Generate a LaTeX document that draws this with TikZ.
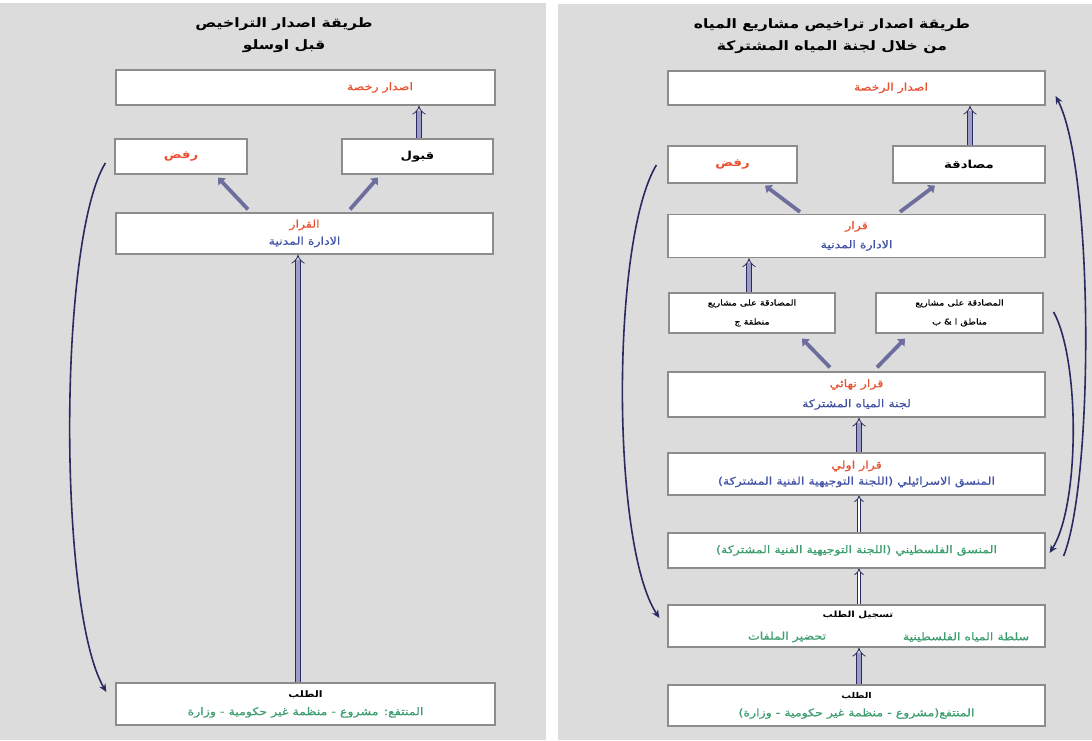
\documentclass[tikz,border=0pt]{standalone}
\usepackage{fontspec}
\usetikzlibrary{arrows.meta,calc}
\TeXXeTstate=1
\newfontfamily\arfont[Script=Arabic,FakeStretch=1.2,FakeBold=0.6,BoldFeatures={FakeBold=0}]{DejaVu Sans}
\newcommand\AR[1]{{\arfont\beginR #1\endR}}
\definecolor{panel}{HTML}{DCDCDC}
\definecolor{boxgray}{HTML}{8C8C8C}
\definecolor{tred}{HTML}{E8502F}
\definecolor{tblue}{HTML}{3F50A5}
\definecolor{tgreen}{HTML}{3C9E6E}
\definecolor{navy}{HTML}{2A2A62}
\definecolor{fatfill}{HTML}{9C9CC4}
\definecolor{diagc}{HTML}{6E6E9E}
\tikzset{
  box/.style={draw=boxgray, line width=1.2pt, fill=white, inner sep=0pt, align=center, font=\fontsize{10.5}{18}\selectfont},
  ttl/.style={align=center, inner sep=0pt, font=\fontsize{13}{22}\selectfont\bfseries},
  lbl/.style={inner sep=0pt, font=\fontsize{10.5}{18}\selectfont},
  small/.style={font=\fontsize{8}{19}\selectfont},
  bold/.style={font=\fontsize{11}{14}\selectfont\bfseries},
  fat/.style={draw=navy, line width=0.8pt, double=fatfill, double distance=4pt, -{Implies}},
  thin2/.style={draw=navy, line width=0.8pt, double=white, double distance=2.5pt, -{Implies}},
  diag/.style={draw=diagc, line width=3.8pt, -{Triangle[width=10pt,length=6pt]}},
  curve/.style={draw=navy, line width=1.6pt, -{Stealth[length=8pt,width=7pt]}}
}
\begin{document}
\begin{tikzpicture}[x=1pt,y=-1pt]
\useasboundingbox (0,0) rectangle (1092,740);
\fill[white] (0,0) rectangle (1092,740);
\fill[panel] (0,3) rectangle (546,740);
\fill[panel] (558,4) rectangle (1092,740);

% ---------- left panel ----------
\node[ttl] (Lt) at (284,35) {\AR{طريقة اصدار التراخيص}\\\AR{قبل اوسلو}};
\node[box, minimum width=379pt, minimum height=35pt] (L1) at (305.5,87.5) {};
\node[lbl, text=tred] (L1t) at (380,87.5) {\AR{اصدار رخصة}};
\node[box, minimum width=132pt, minimum height=35pt, text=tred, bold] (L2) at (181,156.5) {\AR{رفض}};
\node[box, minimum width=151pt, minimum height=35pt, bold] (L3) at (417.5,156.5) {\AR{قبول}};
\node[box, minimum width=377pt, minimum height=41pt, font=\fontsize{10.5}{17}\selectfont] (L4) at (304.5,233.5) {{\color{tred}\AR{القرار}}\\{\color{tblue}\AR{الادارة المدنية}}};
\node[box, minimum width=379pt, minimum height=42pt] (L5) at (305.5,704) {{\fontsize{9}{12}\selectfont\bfseries\AR{الطلب}}\\{\color{tgreen}\AR{المنتفع: مشروع - منظمة غير حكومية - وزارة}}};

\draw[fat] ($(L3.north)+(1.5,0)$) -- ($(L1.south)+(113.5,0)$);
\draw[fat] ($(L5.north)+(-7.5,0)$) -- ($(L4.south)+(-6.5,0)$);
\draw[diag] ($(L4.north)+(-56.5,-3)$) -- ($(L2.south)+(37,3)$);
\draw[diag] ($(L4.north)+(45.5,-3)$) -- ($(L3.south)+(-39.5,3)$);
\draw[curve] ($(L2.west)+(-9,6.5)$) .. controls (58,240) and (58,610) .. ($(L5.west)+(-9,-12)$);

% ---------- right panel ----------
\node[ttl] (Rt) at (832,36) {\AR{طريقة اصدار تراخيص مشاريع المياه}\\\AR{من خلال لجنة المياه المشتركة}};
\node[box, minimum width=377pt, minimum height=34pt] (R1) at (856.5,88) {};
\node[lbl, text=tred] (R1t) at (891,88) {\AR{اصدار الرخصة}};
\node[box, minimum width=129pt, minimum height=37pt, text=tred, bold] (R2) at (732.5,164.5) {\AR{رفض}};
\node[box, minimum width=152pt, minimum height=37pt, bold] (R3) at (969,164.5) {\AR{مصادقة}};
\node[box, minimum width=377pt, minimum height=43pt, font=\fontsize{10.5}{19}\selectfont] (R4) at (856.5,236) {{\color{tred}\AR{قرار}}\\{\color{tblue}\AR{الادارة المدنية}}};
\node[box, small, minimum width=166pt, minimum height=40pt] (R5) at (752,313) {\AR{المصادقة على مشاريع}\\\AR{منطقة ج}};
\node[box, small, minimum width=167pt, minimum height=40pt] (R6) at (959.5,313) {\AR{المصادقة على مشاريع}\\\AR{مناطق ا \& ب}};
\node[box, minimum width=377pt, minimum height=45pt, font=\fontsize{10.5}{20}\selectfont] (R7) at (856.5,394.5) {{\color{tred}\AR{قرار نهائي}}\\{\color{tblue}\AR{لجنة المياه المشتركة}}};
\node[box, minimum width=377pt, minimum height=42pt, font=\fontsize{10.5}{16}\selectfont] (R8) at (856.5,474) {{\color{tred}\AR{قرار اولي}}\\{\color{tblue}\AR{المنسق الاسرائيلي (اللجنة التوجيهية الفنية المشتركة)}}};
\node[box, minimum width=377pt, minimum height=35pt, text=tgreen] (R9) at (856.5,550.5) {\AR{المنسق الفلسطيني (اللجنة التوجيهية الفنية المشتركة)}};
\node[box, minimum width=377pt, minimum height=42pt] (R10) at (856.5,626) {};
\node[lbl, font=\fontsize{8.5}{12}\selectfont\bfseries] (R10a) at (858,615) {\AR{تسجيل الطلب}};
\node[lbl, text=tgreen] (R10b) at (966,637) {\AR{سلطة المياه الفلسطينية}};
\node[lbl, text=tgreen] (R10c) at (787,637) {\AR{تحضير الملفات}};
\node[box, minimum width=377pt, minimum height=41pt] (R11) at (856.5,705.5) {{\fontsize{8}{12}\selectfont\bfseries\AR{الطلب}}\\{\color{tgreen}\AR{المنتفع(مشروع - منظمة غير حكومية - وزارة)}}};

\draw[fat] ($(R3.north)+(1,0)$) -- ($(R1.south)+(113.5,0)$);
\draw[diag] ($(R4.north)+(-56.5,-2)$) -- ($(R2.south)+(32.5,2)$);
\draw[diag] ($(R4.north)+(43.5,-2)$) -- ($(R3.south)+(-34,2)$);
\draw[fat] ($(R5.north)+(-3,0)$) -- ($(R4.south)+(-107.5,0)$);
\draw[diag] ($(R7.north)+(-26.5,-4)$) -- ($(R5.south)+(50,5)$);
\draw[diag] ($(R7.north)+(20.5,-4)$) -- ($(R6.south)+(-54.5,5)$);
\draw[fat] ($(R8.north)+(2.5,0)$) -- ($(R7.south)+(2.5,0)$);
\draw[thin2] ($(R9.north)+(2.5,0)$) -- ($(R8.south)+(2.5,0)$);
\draw[thin2] ($(R10.north)+(2.5,0)$) -- ($(R9.south)+(2.5,0)$);
\draw[fat] ($(R11.north)+(2.5,0)$) -- ($(R10.south)+(2.5,0)$);

\draw[curve] ($(R2.west)+(-11,0.5)$) .. controls (611,240) and (611,545) .. ($(R10.west)+(-8,-8)$);
\draw[curve] ($(R6.east)+(10,-1)$) .. controls (1080,360) and (1080,505) .. ($(R9.east)+(4,2.5)$);
\draw[curve] ($(R9.east)+(18,5.5)$) .. controls (1094,480) and (1094,170) .. ($(R1.east)+(10,8)$);
\end{tikzpicture}
\end{document}
